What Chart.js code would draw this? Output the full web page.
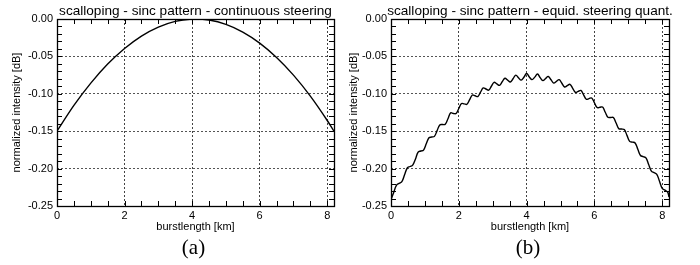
<!DOCTYPE html>
<html>
<head>
<meta charset="utf-8">
<script src="https://cdn.jsdelivr.net/npm/chart.js@4/dist/chart.umd.min.js"></script>
<style>
	html, body { margin: 0; padding: 0; background: #fff; }
	div.view { position: relative; width: 700px; height: 265px; background: #fff; overflow: hidden; }
	div.view > canvas { position: absolute; top: 0; }
	#chart_a { left: 0; }
	#chart_b { left: 340px; }
</style>
</head>
<body>
<div class="view">
	<canvas id="chart_a" width="350" height="265"></canvas>
	<canvas id="chart_b" width="360" height="265"></canvas>
</div>
<script>
// panel (a): continuous steering
const curve_a_km = [0, 0.5, 1, 1.5, 2, 2.5, 3, 3.5, 4, 4.1, 4.5, 5, 5.5, 6, 6.5, 7, 7.5, 8, 8.2];
const curve_a_db = [-0.150, -0.1156, -0.0858, -0.0603, -0.0394, -0.0228, -0.0108, -0.0032, -0.0001, 0, -0.0014, -0.0072, -0.0175, -0.0322, -0.0514, -0.0750, -0.1031, -0.1357, -0.150];

// panel (b): equidistant steering quantisation
const curve_b_km = [0, 0.08, 0.16, 0.24, 0.32, 0.4, 0.48, 0.56, 0.64, 0.72, 0.8, 0.88, 0.96, 1.04, 1.12, 1.2, 1.28, 1.36, 1.44, 1.52,
	1.6, 1.68, 1.76, 1.84, 1.92, 2, 2.08, 2.16, 2.24, 2.32, 2.4, 2.48, 2.56, 2.64, 2.72, 2.8, 2.88, 2.96, 3.04, 3.12,
	3.2, 3.28, 3.36, 3.44, 3.52, 3.6, 3.68, 3.76, 3.84, 3.92, 4, 4.08, 4.16, 4.24, 4.32, 4.4, 4.48, 4.56, 4.64, 4.72,
	4.8, 4.88, 4.96, 5.04, 5.12, 5.2, 5.28, 5.36, 5.44, 5.52, 5.6, 5.68, 5.76, 5.84, 5.92, 6, 6.08, 6.16, 6.24, 6.32,
	6.4, 6.48, 6.56, 6.64, 6.72, 6.8, 6.88, 6.96, 7.04, 7.12, 7.2, 7.28, 7.36, 7.44, 7.52, 7.6, 7.68, 7.76, 7.84, 7.92,
	8, 8.08, 8.16, 8.2];
const curve_b_db = [-0.2415, -0.2318, -0.2223, -0.2198, -0.2175, -0.2082, -0.1992, -0.1972, -0.1953, -0.1875, -0.1780, -0.1765, -0.1752, -0.1669, -0.1588, -0.1578, -0.1569, -0.1492, -0.1416, -0.1411,
	-0.1407, -0.1334, -0.1255, -0.1263, -0.1264, -0.1196, -0.1130, -0.1134, -0.1140, -0.1078, -0.1016, -0.1026, -0.1037, -0.0979, -0.0922, -0.0936, -0.0952, -0.0899, -0.0847, -0.0867,
	-0.0887, -0.0839, -0.0792, -0.0817, -0.0842, -0.0799, -0.0750, -0.0786, -0.0817, -0.0778, -0.0728, -0.0775, -0.0810, -0.0777, -0.0735, -0.0784, -0.0824, -0.0795, -0.0768, -0.0812,
	-0.0857, -0.0833, -0.0811, -0.0859, -0.0909, -0.0891, -0.0873, -0.0927, -0.0981, -0.0968, -0.0955, -0.1013, -0.1073, -0.1064, -0.1056, -0.1120, -0.1184, -0.1180, -0.1177, -0.1246,
	-0.1315, -0.1316, -0.1318, -0.1391, -0.1466, -0.1471, -0.1478, -0.1556, -0.1636, -0.1646, -0.1658, -0.1741, -0.1825, -0.1840, -0.1857, -0.1945, -0.2034, -0.2054, -0.2076, -0.2169,
	-0.2263, -0.2288, -0.2314, -0.2380];

const x_tick_values = [0, 2, 4, 6, 8];
const y_tick_values = [0, -0.05, -0.10, -0.15, -0.20, -0.25];
const panel_titles = ['scalloping - sinc pattern - continuous steering', 'scalloping - sinc pattern - equid. steering quant.'];
const panel_captions = ['(a)', '(b)'];

Chart.defaults.font.family = '"Liberation Sans", Arial, Helvetica, sans-serif';
Chart.defaults.color = '#000';
Chart.defaults.devicePixelRatio = 1;

// frame, inward minor ticks, title and caption
const frame_plugin = {
	id: 'frame',
	afterDraw: function(chart, args, opts)
	{
		let ctx = chart.ctx;
		let area = chart.chartArea;
		let xs = chart.scales.x;
		let ys = chart.scales.y;
		ctx.save();
		ctx.strokeStyle = '#000';
		ctx.lineWidth = 1;
		ctx.beginPath();
		for(let v = 0; v <= 8.0001; v += 0.5)
		{
			let px = Math.round(xs.getPixelForValue(v)) + 0.5;
			ctx.moveTo(px, area.bottom);
			ctx.lineTo(px, area.bottom - 5);
			ctx.moveTo(px, area.top);
			ctx.lineTo(px, area.top + 5);
		}
		for(let v = 0; v >= -0.2501; v -= 0.01)
		{
			let py = Math.round(ys.getPixelForValue(v)) + 0.5;
			ctx.moveTo(area.left, py);
			ctx.lineTo(area.left + 5, py);
			ctx.moveTo(area.right, py);
			ctx.lineTo(area.right - 5, py);
		}
		ctx.stroke();
		ctx.lineWidth = 1.3;
		ctx.strokeRect(Math.round(area.left) + 0.5, Math.round(area.top) + 0.5, Math.round(area.right - area.left), Math.round(area.bottom - area.top));
		let cx = (area.left + area.right) / 2;
		ctx.fillStyle = '#000';
		ctx.textAlign = 'center';
		ctx.textBaseline = 'middle';
		ctx.font = '13.6px "Liberation Sans", Arial, sans-serif';
		ctx.fillText(opts.title, cx, 11);
		ctx.font = '21px "Liberation Serif", "Times New Roman", serif';
		ctx.fillText(opts.caption, cx - 2, 248);
		ctx.restore();
	}
};

function buildChart(canvas_id, km, db, index, y_width, pad_right, y_title_pad, smooth)
{
	let points = [];
	for(let i = 0; i < km.length; i++)
	{
		points.push({x: km[i], y: db[i]});
	}
	let dataset = {
		data: points,
		borderColor: '#000',
		borderWidth: 1.4,
		pointRadius: 0,
		fill: false
	};
	if(smooth === 'monotone')
	{
		dataset.cubicInterpolationMode = 'monotone';
	}
	else
	{
		dataset.tension = 0.4;
	}
	return new Chart(document.getElementById(canvas_id),
		{
			type: 'line',
			data: { datasets: [dataset] },
			options:
				{
					responsive: false,
					animation: false,
					events: [],
					layout: { padding: { top: 19, right: pad_right, left: 0, bottom: 0 } },
					plugins:
						{
							legend: { display: false },
							tooltip: { enabled: false },
							frame: { title: panel_titles[index], caption: panel_captions[index] }
						},
					scales:
						{
							x:
								{
									type: 'linear',
									min: 0,
									max: 8.2,
									afterBuildTicks: function(scale)
									{
										scale.ticks = x_tick_values.map(function(v) { return {value: v}; });
									},
									afterFit: function(scale)
									{
										scale.height = 59;
									},
									ticks: { padding: 3, font: { size: 11 }, maxRotation: 0, autoSkip: false, color: '#000' },
									grid:
										{
											drawTicks: false,
											lineWidth: 1,
											color: function(c) { return (c.tick && c.tick.value === 0) ? 'rgba(0,0,0,0)' : '#444'; }
										},
									border: { display: false, dash: [2, 2] },
									title: { display: true, text: 'burstlength [km]', font: { size: 11 }, color: '#000', padding: { top: 0, bottom: 31 } }
								},
							y:
								{
									type: 'linear',
									min: -0.25,
									max: 0,
									afterBuildTicks: function(scale)
									{
										scale.ticks = y_tick_values.map(function(v) { return {value: v}; });
									},
									afterFit: function(scale)
									{
										scale.width = y_width;
									},
									ticks:
										{
											padding: 4,
											font: { size: 11 },
											color: '#000',
											callback: function(v) { return Number(v).toFixed(2); }
										},
									grid:
										{
											drawTicks: false,
											lineWidth: 1,
											color: '#555'
										},
									border: { display: false, dash: [2, 2] },
									title: { display: true, text: 'normalized intensity [dB]', font: { size: 11 }, color: '#000', padding: { top: y_title_pad, bottom: 0 } }
								}
						}
				},
			plugins: [frame_plugin]
		});
}

buildChart('chart_a', curve_a_km, curve_a_db, 0, 57, 16, 10, 'monotone');
buildChart('chart_b', curve_b_km, curve_b_db, 1, 51, 31, 7, 'tension');
</script>
</body>
</html>
